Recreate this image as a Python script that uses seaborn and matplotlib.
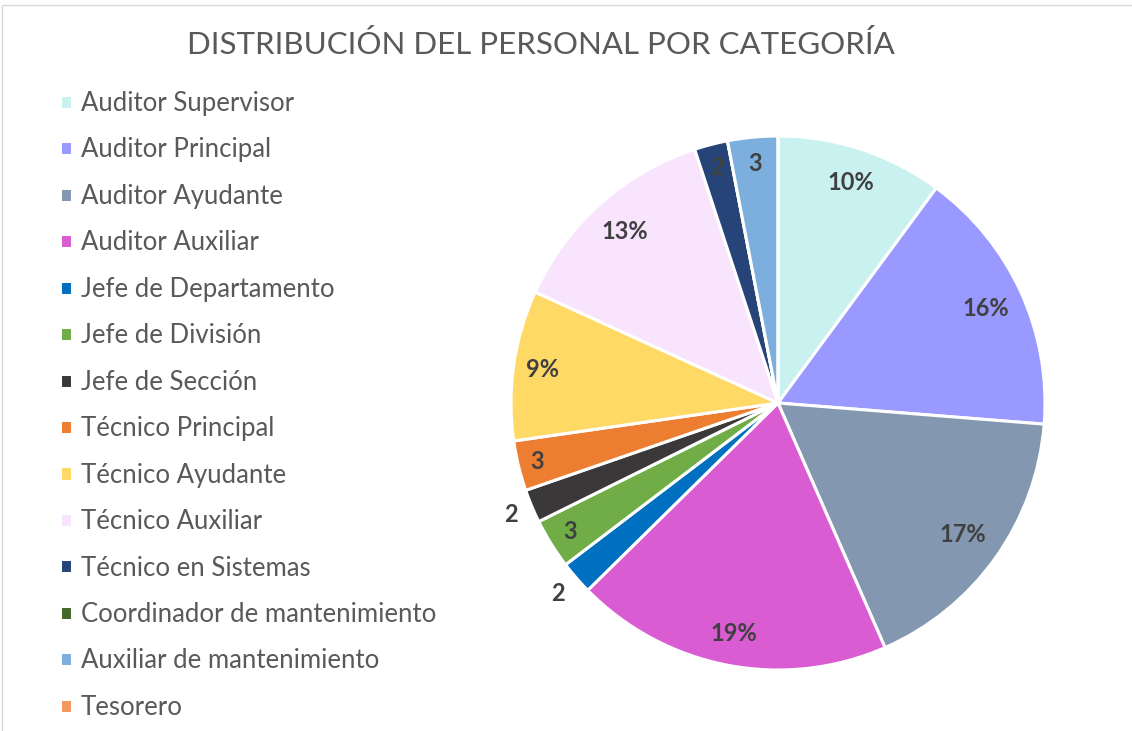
import matplotlib
matplotlib.use("Agg")
import matplotlib.pyplot as plt
import seaborn as sns
import numpy as np
from matplotlib.patches import Rectangle

categories = ["Auditor Supervisor", "Auditor Principal", "Auditor Ayudante", "Auditor Auxiliar",
              "Jefe de Departamento", "Jefe de División", "Jefe de Sección", "Técnico Principal",
              "Técnico Ayudante", "Técnico Auxiliar", "Técnico en Sistemas",
              "Coordinador de mantenimiento", "Auxiliar de mantenimiento", "Tesorero"]
values = [10, 16, 17, 19, 2, 3, 2, 3, 9, 13, 2, 0, 3, 0]
colors = ["#C9F1EF", "#9999FF", "#8497B0", "#DA5CD2", "#0070C0", "#70AD47", "#3A3838",
          "#ED7D31", "#FFD966", "#F8E4FC", "#264478", "#43682B", "#7CAFDD", "#F4975E"]
title = "DISTRIBUCIÓN DEL PERSONAL POR CATEGORÍA"

# label style: radius of each data label (fraction of pie radius)
label_radius = [0.87, 0.855, 0.85, 0.88, 1.09, 0.915, 1.085, 0.93, 0.89, 0.86, 0.91, 0.9, 0.9, 0.9]

sns.set_theme(style="white")
plt.rcParams['font.family'] = ['Lato', 'DejaVu Sans']

W, H = 1132, 731
fig = plt.figure(figsize=(W / 100, H / 100), dpi=100)
fig.patch.set_facecolor("white")

cx, cy, r = 778, 403, 267
ax = fig.add_axes([(cx - r) / W, (H - cy - r) / H, 2 * r / W, 2 * r / H])
palette = sns.color_palette(colors)
wedges, _ = ax.pie(values, colors=palette, startangle=90, counterclock=False, radius=1,
                   wedgeprops=dict(edgecolor="white", linewidth=2.2))
ax.set_xlim(-1, 1)
ax.set_ylim(-1, 1)
ax.set_aspect("equal")
ax.axis("off")

total = sum(values)
for w, v, lr in zip(wedges, values, label_radius):
    if v == 0:
        continue
    ang = np.deg2rad((w.theta1 + w.theta2) / 2)
    txt = f"{v / total * 100:.0f}%" if v >= 5 else f"{v}"
    ax.text(lr * np.cos(ang), lr * np.sin(ang), txt, ha="center", va="center",
            fontsize=17, fontweight="bold", color="#404040")

fig.text(541 / W, 1 - 45 / H, title, ha="center", va="center", fontsize=22.5,
         color="#595959")

leg = fig.legend(wedges, categories, loc="upper left", bbox_to_anchor=(60 / W, 1 - 91 / H),
                 frameon=False, fontsize=18.5, labelcolor="#595959", handlelength=0.47,
                 handleheight=0.47, handletextpad=0.33, labelspacing=0.835, borderpad=0,
                 borderaxespad=0)

# chart border (partially visible)
fig.add_artist(Rectangle((2 / W, -0.1), 1.2, 1 - 5 / H + 0.1, transform=fig.transFigure,
                         fill=False, edgecolor="#D9D9D9", linewidth=1))

fig.savefig("out.png", dpi=100)
